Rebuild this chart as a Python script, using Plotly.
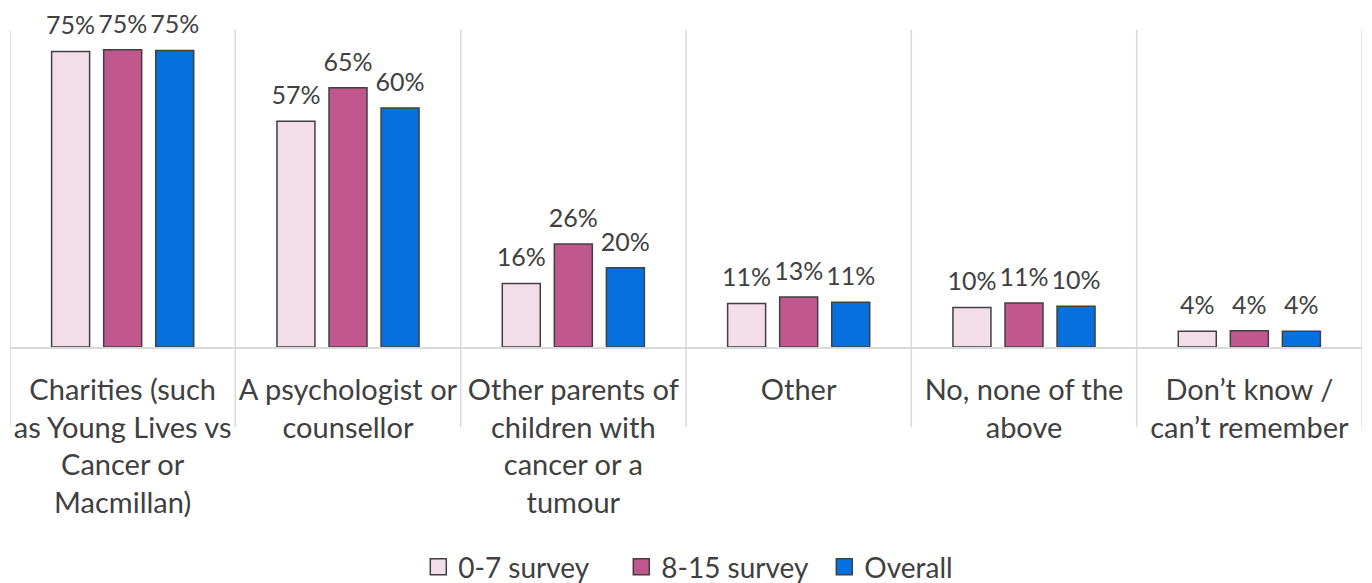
import plotly.graph_objects as go

CATEGORIES = [
    "Charities (such<br>as Young Lives vs<br>Cancer or<br>Macmillan)",
    "A psychologist or<br>counsellor",
    "Other parents of<br>children with<br>cancer or a<br>tumour",
    "Other",
    "No, none of the<br>above",
    "Don’t know /<br>can’t remember",
]
SURVEY_0_7 = [74.6, 57, 16, 11, 10, 4]
SURVEY_8_15 = [75.0, 65.4, 26, 12.6, 11.1, 4.1]
OVERALL = [74.8, 60.3, 20, 11.3, 10.3, 4]

SERIES = [
    ("0-7 survey", SURVEY_0_7, '#F2DDE9'),
    ("8-15 survey", SURVEY_8_15, '#C0578F'),
    ("Overall", OVERALL, '#0570DE'),
]

FONT = dict(family='Lato, sans-serif', size=28, color='#404040')
TICK_FONT = dict(family='Lato, sans-serif', size=29, color='#404040')
LABEL_FONT = dict(family='Lato, sans-serif', size=25, color='#404040')
GRID = '#D9D9D9'
EDGE = dict(color='#404040', width=1.5)
GAP = 0.307

fig = go.Figure()
for name, vals, color in SERIES:
    fig.add_trace(go.Bar(
        name=name,
        x=CATEGORIES,
        y=vals,
        offsetgroup=name,
        marker=dict(color=color, line=EDGE),
        showlegend=False,
        hoverinfo='skip',
    ))
    # value labels, lifted a bit above the bar tops by an invisible marker
    fig.add_trace(go.Scatter(
        x=CATEGORIES,
        y=vals,
        offsetgroup=name,
        mode='markers+text',
        text=[f"{round(v)}%" for v in vals],
        textposition='top center',
        textfont=LABEL_FONT,
        marker=dict(size=16, opacity=0),
        cliponaxis=False,
        showlegend=False,
        hoverinfo='skip',
    ))

# legend-only entries so the swatches can be bigger squares
for name, vals, color in SERIES:
    fig.add_trace(go.Scatter(
        x=[None], y=[None], name=name, mode='markers',
        marker=dict(symbol='square', size=16, color=color, line=EDGE),
    ))

# category separators, running down into the label area
for i in range(len(CATEGORIES) + 1):
    fig.add_shape(type='line', xref='x', yref='paper',
                  x0=i - 0.5, x1=i - 0.5, y0=-0.252, y1=1,
                  line=dict(color=GRID, width=1.5), layer='below')

# page body has an 8px margin, so the figure is drawn 8px smaller
fig.update_layout(
    width=1364, height=575,
    margin=dict(t=22, r=10, b=236, l=2, autoexpand=False),
    paper_bgcolor='white',
    plot_bgcolor='white',
    font=FONT,
    barmode='group',
    bargap=GAP,
    bargroupgap=0.27,
    scattermode='group',
    scattergap=GAP,
    showlegend=True,
    legend=dict(orientation='h', x=0.302, xanchor='left', y=-0.694, yanchor='middle',
                font=FONT, itemwidth=30, entrywidth=158),
    xaxis=dict(showgrid=False, showline=True, linecolor=GRID, linewidth=2,
               ticks='outside', ticklen=16, tickcolor='rgba(0,0,0,0)',
               tickfont=TICK_FONT, tickangle=0, range=[-0.5, 5.5], automargin=False),
    yaxis=dict(range=[0, 80], visible=False, automargin=False),
)

fig.write_html("out.html")
